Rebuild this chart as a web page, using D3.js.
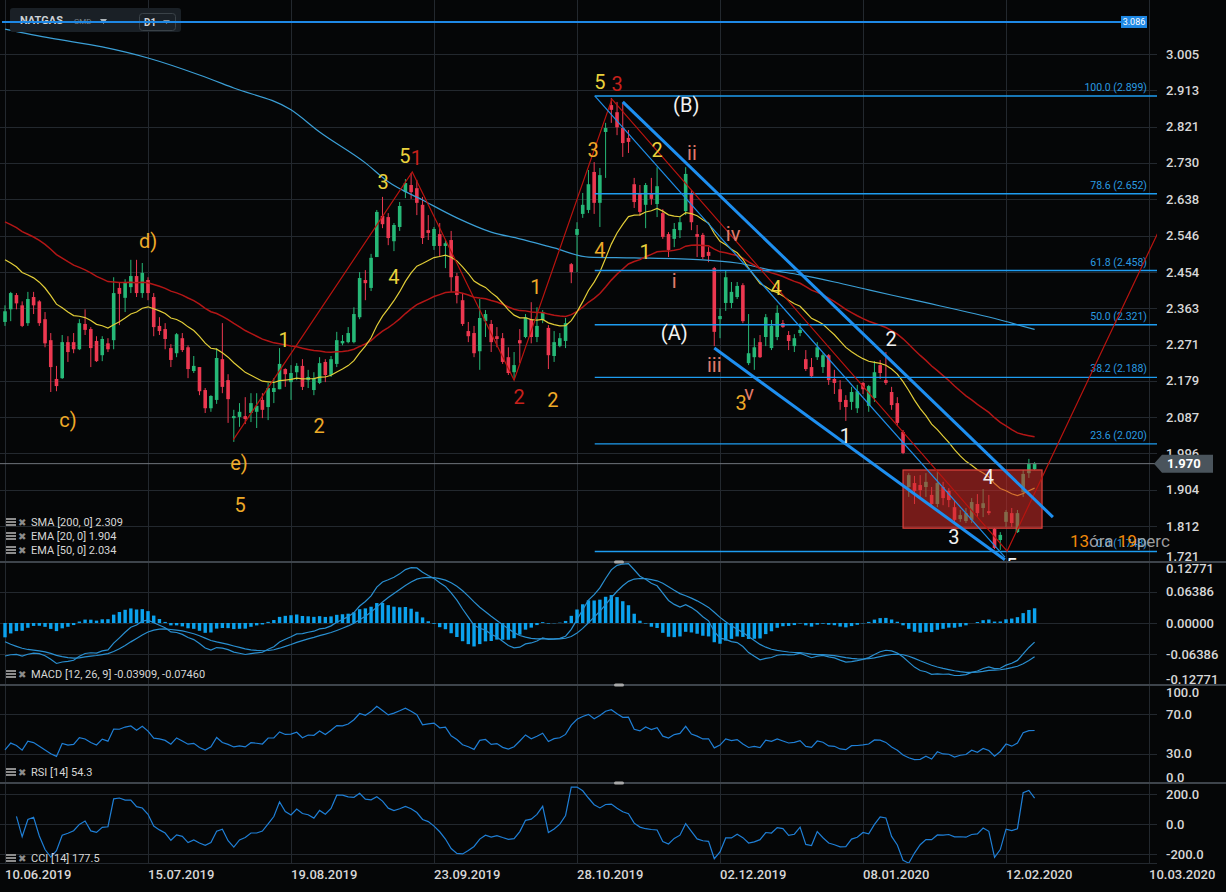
<!DOCTYPE html>
<html>
<head>
<meta charset="utf-8">
<script src="https://cdn.jsdelivr.net/npm/d3@7"></script>
<style>
body{margin:0;background:#050607;overflow:hidden}
text{font-family:Roboto,"Noto Sans",sans-serif}
</style>
</head>
<body>
<script>
//daily NATGAS candles, 10.06.2019 -> 14.02.2020
var opens = [2.328,2.360,2.396,2.370,2.325,2.391,2.380,2.335,2.282,2.184,
2.186,2.277,2.277,2.259,2.323,2.310,2.280,2.244,2.274,2.282,
2.414,2.389,2.416,2.444,2.401,2.434,2.391,2.318,2.310,2.262,
2.249,2.287,2.264,2.204,2.214,2.156,2.110,2.131,2.234,2.181,
2.085,2.088,2.090,2.098,2.101,2.131,2.113,2.151,2.158,2.209,
2.176,2.201,2.217,2.181,2.156,2.174,2.227,2.194,2.222,2.274,
2.277,2.277,2.340,2.434,2.414,2.492,2.596,2.593,2.532,2.568,
2.656,2.674,2.666,2.624,2.560,2.520,2.550,2.520,2.535,2.444,
2.383,2.305,2.300,2.254,2.330,2.323,2.292,2.287,2.239,2.201,
2.282,2.290,2.335,2.290,2.333,2.313,2.242,2.267,2.280,2.474,
2.548,2.601,2.611,2.707,2.629,2.808,2.876,2.858,2.818,2.793,
2.676,2.654,2.624,2.651,2.626,2.603,2.550,2.538,2.560,2.608,
2.654,2.550,2.548,2.505,2.464,2.335,2.376,2.376,2.391,2.421,
2.224,2.239,2.277,2.290,2.262,2.290,2.325,2.295,2.267,2.300,
2.234,2.214,2.239,2.214,2.244,2.184,2.158,2.131,2.126,2.110,
2.174,2.116,2.136,2.219,2.181,2.151,2.123,2.050,1.911,1.921,
1.916,1.911,1.891,1.868,1.911,1.901,1.860,1.830,1.825,1.828,
1.868,1.858,1.850,1.805,1.777,1.823,1.845,1.797,1.898,1.946,
1.956];
var highs = [2.370,2.404,2.401,2.380,2.404,2.404,2.383,2.353,2.300,2.217,
2.295,2.292,2.300,2.335,2.360,2.315,2.292,2.292,2.287,2.441,
2.429,2.436,2.485,2.485,2.477,2.441,2.401,2.340,2.325,2.272,
2.300,2.300,2.269,2.242,2.214,2.161,2.143,2.262,2.325,2.196,
2.106,2.123,2.138,2.148,2.148,2.148,2.174,2.186,2.262,2.211,
2.219,2.224,2.234,2.207,2.201,2.239,2.234,2.242,2.303,2.295,
2.315,2.365,2.454,2.459,2.500,2.611,2.644,2.603,2.578,2.631,
2.689,2.704,2.687,2.644,2.598,2.568,2.578,2.535,2.558,2.452,
2.401,2.328,2.318,2.386,2.358,2.333,2.315,2.300,2.264,2.252,
2.310,2.348,2.378,2.365,2.358,2.320,2.305,2.300,2.338,2.477,
2.580,2.654,2.712,2.732,2.717,2.831,2.894,2.884,2.881,2.813,
2.692,2.674,2.679,2.692,2.719,2.613,2.555,2.578,2.593,2.719,
2.661,2.573,2.553,2.517,2.467,2.363,2.459,2.429,2.429,2.426,
2.348,2.287,2.295,2.348,2.333,2.370,2.333,2.305,2.297,2.325,
2.257,2.237,2.277,2.249,2.247,2.207,2.181,2.143,2.164,2.169,
2.176,2.169,2.229,2.232,2.252,2.164,2.138,2.055,1.946,1.939,
1.941,1.946,1.911,1.954,1.924,1.908,1.878,1.853,1.858,1.883,
1.893,1.906,1.891,1.807,1.797,1.853,1.858,1.853,1.954,1.982,
1.974];
var lows = [2.318,2.330,2.360,2.315,2.318,2.348,2.318,2.264,2.151,2.153,
2.184,2.227,2.249,2.257,2.295,2.214,2.227,2.229,2.252,2.259,
2.320,2.353,2.401,2.391,2.389,2.383,2.292,2.295,2.259,2.214,
2.239,2.252,2.186,2.199,2.143,2.098,2.101,2.121,2.148,2.073,
2.025,2.063,2.070,2.075,2.060,2.085,2.080,2.123,2.158,2.164,
2.131,2.181,2.156,2.161,2.143,2.171,2.176,2.189,2.214,2.269,
2.274,2.274,2.335,2.383,2.406,2.492,2.565,2.522,2.507,2.558,
2.641,2.639,2.598,2.525,2.535,2.510,2.492,2.464,2.404,2.375,
2.318,2.277,2.239,2.207,2.290,2.252,2.264,2.222,2.194,2.186,
2.224,2.287,2.274,2.277,2.325,2.209,2.227,2.264,2.262,2.426,
2.454,2.591,2.603,2.601,2.568,2.692,2.831,2.800,2.745,2.755,
2.616,2.596,2.565,2.624,2.593,2.538,2.492,2.517,2.540,2.598,
2.560,2.492,2.487,2.479,2.267,2.287,2.356,2.363,2.386,2.325,
2.219,2.207,2.237,2.267,2.257,2.282,2.313,2.257,2.252,2.292,
2.204,2.186,2.232,2.199,2.169,2.146,2.106,2.078,2.106,2.098,
2.146,2.101,2.126,2.184,2.169,2.106,2.065,1.994,1.886,1.868,
1.886,1.886,1.860,1.860,1.865,1.860,1.820,1.823,1.820,1.820,
1.835,1.835,1.840,1.754,1.752,1.810,1.810,1.795,1.886,1.934,
1.954];
var closes = [2.355,2.401,2.375,2.318,2.386,2.370,2.325,2.274,2.214,2.166,
2.277,2.252,2.259,2.325,2.308,2.262,2.229,2.285,2.259,2.401,
2.399,2.429,2.444,2.401,2.452,2.401,2.315,2.305,2.285,2.232,
2.297,2.257,2.209,2.217,2.153,2.110,2.141,2.237,2.164,2.133,
2.090,2.101,2.083,2.123,2.116,2.106,2.161,2.161,2.222,2.196,
2.199,2.217,2.164,2.189,2.186,2.224,2.194,2.234,2.282,2.280,
2.300,2.348,2.439,2.426,2.490,2.606,2.575,2.540,2.573,2.621,
2.679,2.656,2.629,2.540,2.553,2.563,2.520,2.527,2.441,2.396,
2.323,2.292,2.249,2.338,2.348,2.277,2.285,2.227,2.199,2.219,
2.274,2.340,2.290,2.318,2.353,2.244,2.277,2.287,2.325,2.454,
2.563,2.624,2.676,2.629,2.699,2.818,2.864,2.820,2.780,2.783,
2.631,2.606,2.674,2.639,2.671,2.543,2.510,2.563,2.580,2.702,
2.580,2.543,2.492,2.495,2.303,2.343,2.441,2.404,2.419,2.330,
2.249,2.264,2.239,2.340,2.318,2.351,2.315,2.280,2.287,2.308,
2.209,2.191,2.264,2.244,2.181,2.174,2.126,2.113,2.151,2.153,
2.158,2.166,2.201,2.199,2.174,2.118,2.073,1.997,1.941,1.901,
1.903,1.924,1.868,1.921,1.883,1.878,1.828,1.840,1.845,1.873,
1.845,1.870,1.845,1.757,1.790,1.848,1.820,1.845,1.944,1.969,
1.970];

//date axis: one label every 25 bars
var dateBars = [0, 25, 50, 75, 100, 125, 150, 175, 200];
var dateLabels = ["10.06.2019","15.07.2019","19.08.2019","23.09.2019","28.10.2019","02.12.2019","08.01.2020","12.02.2020","10.03.2020"];

//right axis ticks
var priceTicks = [3.005,2.913,2.821,2.730,2.638,2.546,2.454,2.363,2.271,2.179,2.087,1.996,1.904,1.812,1.721];
var macdTicks = [0.12771,0.06386,0,-0.06386,-0.12771];
var rsiTicks = [100,70,30,0];
var cciTicks = [200,0,-200];

//200 day SMA (bar, value)
var smaBars = [0,8,17,25,34,40,50,55,63,67,73,79,85,90,96,102,110,122,128,134,139,145,151,159,174,180];
var smaValues = [3.068,3.045,3.023,2.995,2.952,2.919,2.864,2.808,2.730,2.682,2.636,2.591,2.555,2.538,2.515,2.492,2.490,2.485,2.477,2.459,2.447,2.429,2.409,2.383,2.333,2.309];

//indicator starting values (state before the first visible bar)
var ema20Seed = 2.485, ema50Seed = 2.581;
var ema12Seed = 2.432, ema26Seed = 2.500, signalSeed = -0.0385;
var rsiGainSeed = 0.0102, rsiLossSeed = 0.0200;

//fibonacci retracement
var fibStartBar = 103.1;
var fibLevels = [100.0, 78.6, 61.8, 50.0, 38.2, 23.6, 0.0];
var fibPrices = [2.899, 2.652, 2.458, 2.321, 2.188, 2.020, 1.748];

//drawn lines [bar, price]
var redWave = [[39.9,2.030],[71.2,2.707],[89.0,2.181],[106.1,2.891],[175.2,1.749],[201.6,2.555]];
var upperChannel = [[108.0,2.884],[183.2,1.835]];
var lowerChannel = [[124.0,2.262],[174.8,1.727]];
var thinChannel = [[103.1,2.899],[174.8,1.734]];
var boxBars = [157.0, 181.3], boxPrices = [1.807, 1.954];
var resistance = 3.086, lastPrice = 1.970;

//wave labels [bar, price, text]
var orangeLabels = [[25.0,2.532,"d)"],[11.0,2.080,"c)"],[40.9,1.972,"e)"],[41.1,1.865,"5"],[54.9,2.065,"2"],[92.8,2.416,"1"],[95.8,2.131,"2"],[102.8,2.762,"3"],[104.0,2.510,"4"],[128.7,2.123,"3"]];
var yellowLabels = [[48.8,2.282,"1"],[66.1,2.682,"3"],[68.0,2.442,"4"],[69.9,2.747,"5"],[104.0,2.934,"5"],[114.0,2.762,"2"],[111.9,2.505,"1"],[134.8,2.414,"4"]];
var redLabels = [[71.9,2.742,"1"],[89.9,2.138,"2"],[107.0,2.929,"3"]];
var romanLabels = [[120.1,2.755,"ii"],[117.0,2.431,"i"],[127.3,2.550,"iv"],[124.0,2.219,"iii"],[130.1,2.148,"v"]];
var whiteLabels = [[119.1,2.876,"(B)"],[117.0,2.300,"(A)"],[146.9,2.040,"1"],[154.9,2.285,"2"],[165.9,1.785,"3"],[171.9,1.936,"4"],[176.0,1.711,"5"]];

window.onload = function(){
    var W = 1226, H = 892, plotRight = 1157;
    var n = closes.length;

    var svg = d3.select("body").append("svg")
        .attr("width", W)
        .attr("height", H);
    svg.append("rect").attr("width", W).attr("height", H).attr("fill", "#050607");

    //scales
    var x = d3.scaleLinear().domain([0, 200]).range([5, 1149]);
    var yMain = d3.scaleLinear().domain([1.7215, 3.1415]).range([562, 0]);
    var yMacd = d3.scaleLinear().domain([-0.12771, 0.12771]).range([685, 561]);
    var yRsi = d3.scaleLinear().domain([0, 100]).range([783, 685]);
    var yCci = d3.scaleLinear().domain([-200, 200]).range([854, 794]);

    //indicators
    function emaSeries(values, period, seed){
        var k = 2 / (period + 1), prev = seed;
        return values.map(function(v, i){
            prev = i === 0 ? seed : prev + k * (v - prev);
            return prev;
        });
    }
    var ema20 = emaSeries(closes, 20, ema20Seed);
    var ema50 = emaSeries(closes, 50, ema50Seed);
    var ema12 = emaSeries(closes, 12, ema12Seed);
    var ema26 = emaSeries(closes, 26, ema26Seed);
    var macd = ema12.map(function(v, i){ return v - ema26[i]; });
    var signal = emaSeries(macd, 9, signalSeed);
    var hist = macd.map(function(v, i){ return v - signal[i]; });

    var rsi = [], ag = rsiGainSeed, al = rsiLossSeed;
    closes.forEach(function(c, i){
        if(i > 0){
            var ch = c - closes[i - 1];
            ag = (ag * 13 + Math.max(ch, 0)) / 14;
            al = (al * 13 + Math.max(-ch, 0)) / 14;
        }
        rsi.push(100 - 100 / (1 + ag / al));
    });

    var tp = closes.map(function(c, i){ return (highs[i] + lows[i] + c) / 3; });
    var cci = tp.map(function(t, i){
        if(i < 2) return null;
        var win = tp.slice(Math.max(0, i - 13), i + 1);
        var m = d3.mean(win);
        var md = d3.mean(win, function(v){ return Math.abs(v - m); });
        return md === 0 ? 0 : (t - m) / (0.015 * md);
    });

    //clip paths per panel
    var defs = svg.append("defs");
    function addClip(id, y0, y1){
        defs.append("clipPath").attr("id", id)
            .append("rect").attr("x", 0).attr("y", y0).attr("width", plotRight).attr("height", y1 - y0);
    }
    addClip("clipMain", 0, 562);
    addClip("clipMacd", 563, 685);
    addClip("clipRsi", 686, 783);
    addClip("clipCci", 784, 863);

    //grid
    var grid = svg.append("g").attr("stroke", "#23282e").attr("stroke-width", 1);
    function hGrid(vals, scale){
        grid.selectAll(null).data(vals).enter().append("line")
            .attr("x1", 0).attr("x2", plotRight)
            .attr("y1", function(d){ return Math.round(scale(d)) + 0.5; })
            .attr("y2", function(d){ return Math.round(scale(d)) + 0.5; });
    }
    hGrid(priceTicks.slice(0, -1), yMain);
    hGrid([0.06386, 0, -0.06386], yMacd);
    hGrid([70, 30], yRsi);
    hGrid(cciTicks, yCci);
    grid.append("line").attr("x1", 0).attr("x2", plotRight).attr("y1", 863.5).attr("y2", 863.5);
    grid.selectAll(null).data(dateBars).enter().append("line")
        .attr("x1", function(d){ return Math.round(x(d)) + 0.5; })
        .attr("x2", function(d){ return Math.round(x(d)) + 0.5; })
        .attr("y1", 0).attr("y2", 864);

    //main panel
    var main = svg.append("g").attr("clip-path", "url(#clipMain)");

    //candles
    var idx = d3.range(n);
    var up = "#26b877", down = "#ec3850";
    main.selectAll(".wick").data(idx).enter().append("line")
        .attr("class", "wick")
        .attr("x1", function(i){ return x(i); })
        .attr("x2", function(i){ return x(i); })
        .attr("y1", function(i){ return yMain(highs[i]); })
        .attr("y2", function(i){ return yMain(lows[i]); })
        .attr("stroke", function(i){ return closes[i] >= opens[i] ? up : down; })
        .attr("stroke-width", 1);
    main.selectAll(".body").data(idx).enter().append("rect")
        .attr("class", "body")
        .attr("x", function(i){ return x(i) - 1.8; })
        .attr("width", 3.6)
        .attr("y", function(i){ return yMain(Math.max(opens[i], closes[i])); })
        .attr("height", function(i){ return Math.max(1.2, Math.abs(yMain(opens[i]) - yMain(closes[i]))); })
        .attr("fill", function(i){ return closes[i] >= opens[i] ? up : down; });

    //moving averages
    var lineGen = function(series, scale){
        return d3.line()
            .defined(function(d){ return d != null; })
            .x(function(d, i){ return x(i); })
            .y(function(d){ return scale(d); })(series);
    };
    main.append("path")
        .attr("d", d3.line().curve(d3.curveMonotoneX)
            .x(function(d, i){ return x(smaBars[i]); })
            .y(function(d){ return yMain(d); })(smaValues))
        .attr("fill", "none").attr("stroke", "#3b9fd6").attr("stroke-width", 1.2);
    main.append("path").attr("d", lineGen(ema50, yMain))
        .attr("fill", "none").attr("stroke", "#b31616").attr("stroke-width", 1.5);
    main.append("path").attr("d", lineGen(ema20, yMain))
        .attr("fill", "none").attr("stroke", "#e2cd38").attr("stroke-width", 1.2);

    //consolidation box
    main.append("rect")
        .attr("x", x(boxBars[0]))
        .attr("width", x(boxBars[1]) - x(boxBars[0]))
        .attr("y", yMain(boxPrices[1]))
        .attr("height", yMain(boxPrices[0]) - yMain(boxPrices[1]))
        .attr("fill", "rgba(205,44,40,0.56)")
        .attr("stroke", "#e2433d").attr("stroke-width", 1.2);

    //last price line
    main.append("line")
        .attr("x1", 0).attr("x2", plotRight)
        .attr("y1", yMain(lastPrice)).attr("y2", yMain(lastPrice))
        .attr("stroke", "#6f757b").attr("stroke-width", 1);

    //fibonacci levels
    main.selectAll(".fib").data(fibPrices).enter().append("line")
        .attr("class", "fib")
        .attr("x1", x(fibStartBar)).attr("x2", plotRight)
        .attr("y1", function(d){ return yMain(d); })
        .attr("y2", function(d){ return yMain(d); })
        .attr("stroke", "#1e9cf0").attr("stroke-width", 1.3);
    main.selectAll(".fibLabel").data(fibPrices).enter().append("text")
        .attr("class", "fibLabel")
        .attr("x", 1147)
        .attr("y", function(d){ return yMain(d) - 5; })
        .attr("text-anchor", "end")
        .attr("font-size", 10.5)
        .attr("fill", "#2a9be0")
        .text(function(d, i){ return fibLevels[i].toFixed(1) + " (" + d.toFixed(3) + ")"; });

    //trend lines
    var segLine = d3.line()
        .x(function(d){ return x(d[0]); })
        .y(function(d){ return yMain(d[1]); });
    main.append("path").attr("d", segLine(redWave))
        .attr("fill", "none").attr("stroke", "#b8140f").attr("stroke-width", 1.2);
    main.append("path").attr("d", segLine(thinChannel))
        .attr("fill", "none").attr("stroke", "#1e8ee8").attr("stroke-width", 1.2);
    main.append("path").attr("d", segLine(upperChannel))
        .attr("fill", "none").attr("stroke", "#1e8ff0").attr("stroke-width", 3);
    main.append("path").attr("d", segLine(lowerChannel))
        .attr("fill", "none").attr("stroke", "#1e8ff0").attr("stroke-width", 3);

    //wave labels
    function addLabels(list, color){
        main.selectAll(null).data(list).enter().append("text")
            .attr("x", function(d){ return x(d[0]); })
            .attr("y", function(d){ return yMain(d[1]); })
            .attr("text-anchor", "middle")
            .attr("dominant-baseline", "central")
            .attr("font-size", 20)
            .attr("fill", color)
            .text(function(d){ return d[2]; });
    }
    addLabels(orangeLabels, "#eeaa28");
    addLabels(yellowLabels, "#ead23c");
    addLabels(redLabels, "#c8211c");
    addLabels(romanLabels, "#e07b6c");
    addLabels(whiteLabels, "#f2f2f2");

    //countdown text
    var cd = svg.append("text").attr("x", 1070).attr("y", 547).attr("font-size", 17);
    cd.append("tspan").attr("fill", "#f0890a").text("13");
    cd.append("tspan").attr("fill", "#b9b9b9").attr("fill-opacity", 0.85).text("óra ");
    cd.append("tspan").attr("fill", "#f0890a").text("19");
    cd.append("tspan").attr("fill", "#b9b9b9").attr("fill-opacity", 0.85).text("perc");

    //resistance line across the top
    svg.append("rect").attr("x", 10).attr("y", 8).attr("width", 171).attr("height", 24).attr("rx", 3).attr("fill", "#1a2026");
    svg.append("text").attr("x", 20).attr("y", 24).attr("font-size", 11).attr("font-weight", "bold").attr("fill", "#cdd2d6").text("NATGAS");
    svg.append("text").attr("x", 74).attr("y", 24).attr("font-size", 8).attr("fill", "#7b848b").text("CMD");
    svg.append("path").attr("d", "M100,19 L107,19 L103.5,24 Z").attr("fill", "#b0b6ba");
    svg.append("rect").attr("x", 139.5).attr("y", 13.5).attr("width", 36).attr("height", 17).attr("rx", 3)
        .attr("fill", "none").attr("stroke", "#3a4248");
    svg.append("text").attr("x", 144).attr("y", 26).attr("font-size", 10).attr("font-weight", "bold").attr("fill", "#cdd2d6").text("D1");
    svg.append("path").attr("d", "M163,20 L170,20 L166.5,24 Z").attr("fill", "#8a9299");

    svg.append("line")
        .attr("x1", 2).attr("x2", 1146)
        .attr("y1", yMain(resistance)).attr("y2", yMain(resistance))
        .attr("stroke", "#1e88e5").attr("stroke-width", 2);
    svg.append("rect").attr("x", 1121).attr("y", yMain(resistance) - 6).attr("width", 26).attr("height", 12).attr("fill", "#1e88e5");
    svg.append("text").attr("x", 1134).attr("y", yMain(resistance) + 3.5)
        .attr("text-anchor", "middle").attr("font-size", 9).attr("fill", "#ffffff").text(resistance.toFixed(3));

    //MACD panel
    var macdG = svg.append("g").attr("clip-path", "url(#clipMacd)");
    macdG.selectAll(".hist").data(hist).enter().append("rect")
        .attr("class", "hist")
        .attr("x", function(d, i){ return x(i) - 1.7; })
        .attr("width", 3.4)
        .attr("y", function(d){ return Math.min(yMacd(d), yMacd(0)); })
        .attr("height", function(d){ return Math.abs(yMacd(d) - yMacd(0)); })
        .attr("fill", "#0ba2ee");
    macdG.append("path").attr("d", lineGen(macd, yMacd))
        .attr("fill", "none").attr("stroke", "#2a8fd0").attr("stroke-width", 1.2);
    macdG.append("path").attr("d", lineGen(signal, yMacd))
        .attr("fill", "none").attr("stroke", "#2a8fd0").attr("stroke-width", 1.2);

    //RSI panel
    svg.append("g").attr("clip-path", "url(#clipRsi)")
        .append("path").attr("d", lineGen(rsi, yRsi))
        .attr("fill", "none").attr("stroke", "#1f7fd6").attr("stroke-width", 1.2);

    //CCI panel
    svg.append("g").attr("clip-path", "url(#clipCci)")
        .append("path").attr("d", lineGen(cci, yCci))
        .attr("fill", "none").attr("stroke", "#1f7fd6").attr("stroke-width", 1.2);

    //panel separators and handles
    [562, 685, 783].forEach(function(y){
        svg.append("line").attr("x1", 0).attr("x2", W).attr("y1", y).attr("y2", y)
            .attr("stroke", "#3e444b").attr("stroke-width", 2);
        svg.append("rect").attr("x", 614).attr("y", y - 1.5).attr("width", 10).attr("height", 3).attr("rx", 1.5)
            .attr("fill", "#a9a9a9");
    });

    //legends
    function legend(y, label){
        var g = svg.append("g");
        [0, 3, 6].forEach(function(dy){
            g.append("rect").attr("x", 6).attr("y", y - 8 + dy).attr("width", 10).attr("height", 2).attr("fill", "#8c8c8c");
        });
        g.append("text").attr("x", 18).attr("y", y).attr("font-size", 10).attr("fill", "#8c8c8c").text("✖");
        g.append("text").attr("x", 31).attr("y", y).attr("font-size", 11).attr("fill", "#d6d6d6").text(label);
    }
    legend(526, "SMA [200,  0] 2.309");
    legend(540, "EMA [20,  0] 1.904");
    legend(554, "EMA [50,  0] 2.034");
    legend(678, "MACD [12,  26,  9] -0.03909,  -0.07460");
    legend(776, "RSI  [14]  54.3");
    legend(862, "CCI  [14]  177.5");

    //right axis labels
    function axisLabels(vals, scale, top, bottom, fmt){
        svg.selectAll(null).data(vals).enter().append("text")
            .attr("x", 1166)
            .attr("y", function(d){ return Math.max(top + 7, Math.min(bottom - 6, scale(d))); })
            .attr("dominant-baseline", "central")
            .attr("font-size", 13)
            .attr("font-weight", 500)
            .attr("fill", "#d7d7d7")
            .text(fmt);
    }
    axisLabels(priceTicks, yMain, 0, 562, function(d){ return d.toFixed(3); });
    axisLabels(macdTicks, yMacd, 561, 685, function(d){ return d.toFixed(5); });
    axisLabels(rsiTicks, yRsi, 685, 783, function(d){ return d.toFixed(1); });
    axisLabels(cciTicks, yCci, 783, 862, function(d){ return d.toFixed(1); });

    //last price tag
    var ly = yMain(lastPrice);
    svg.append("path")
        .attr("d", "M1154," + ly + " L1162," + (ly - 9) + " L1213," + (ly - 9) + " L1213," + (ly + 9) + " L1162," + (ly + 9) + " Z")
        .attr("fill", "#4a545c");
    svg.append("text").attr("x", 1167).attr("y", ly).attr("dominant-baseline", "central")
        .attr("font-size", 13).attr("font-weight", "bold").attr("fill", "#ffffff").text(lastPrice.toFixed(3));

    //date labels
    svg.selectAll(".date").data(dateBars).enter().append("text")
        .attr("class", "date")
        .attr("x", function(d){ return x(d); })
        .attr("y", 879)
        .attr("font-size", 13)
        .attr("font-weight", 500)
        .attr("fill", "#d7d7d7")
        .text(function(d, i){ return dateLabels[i]; });
};
</script>
</body>
</html>
